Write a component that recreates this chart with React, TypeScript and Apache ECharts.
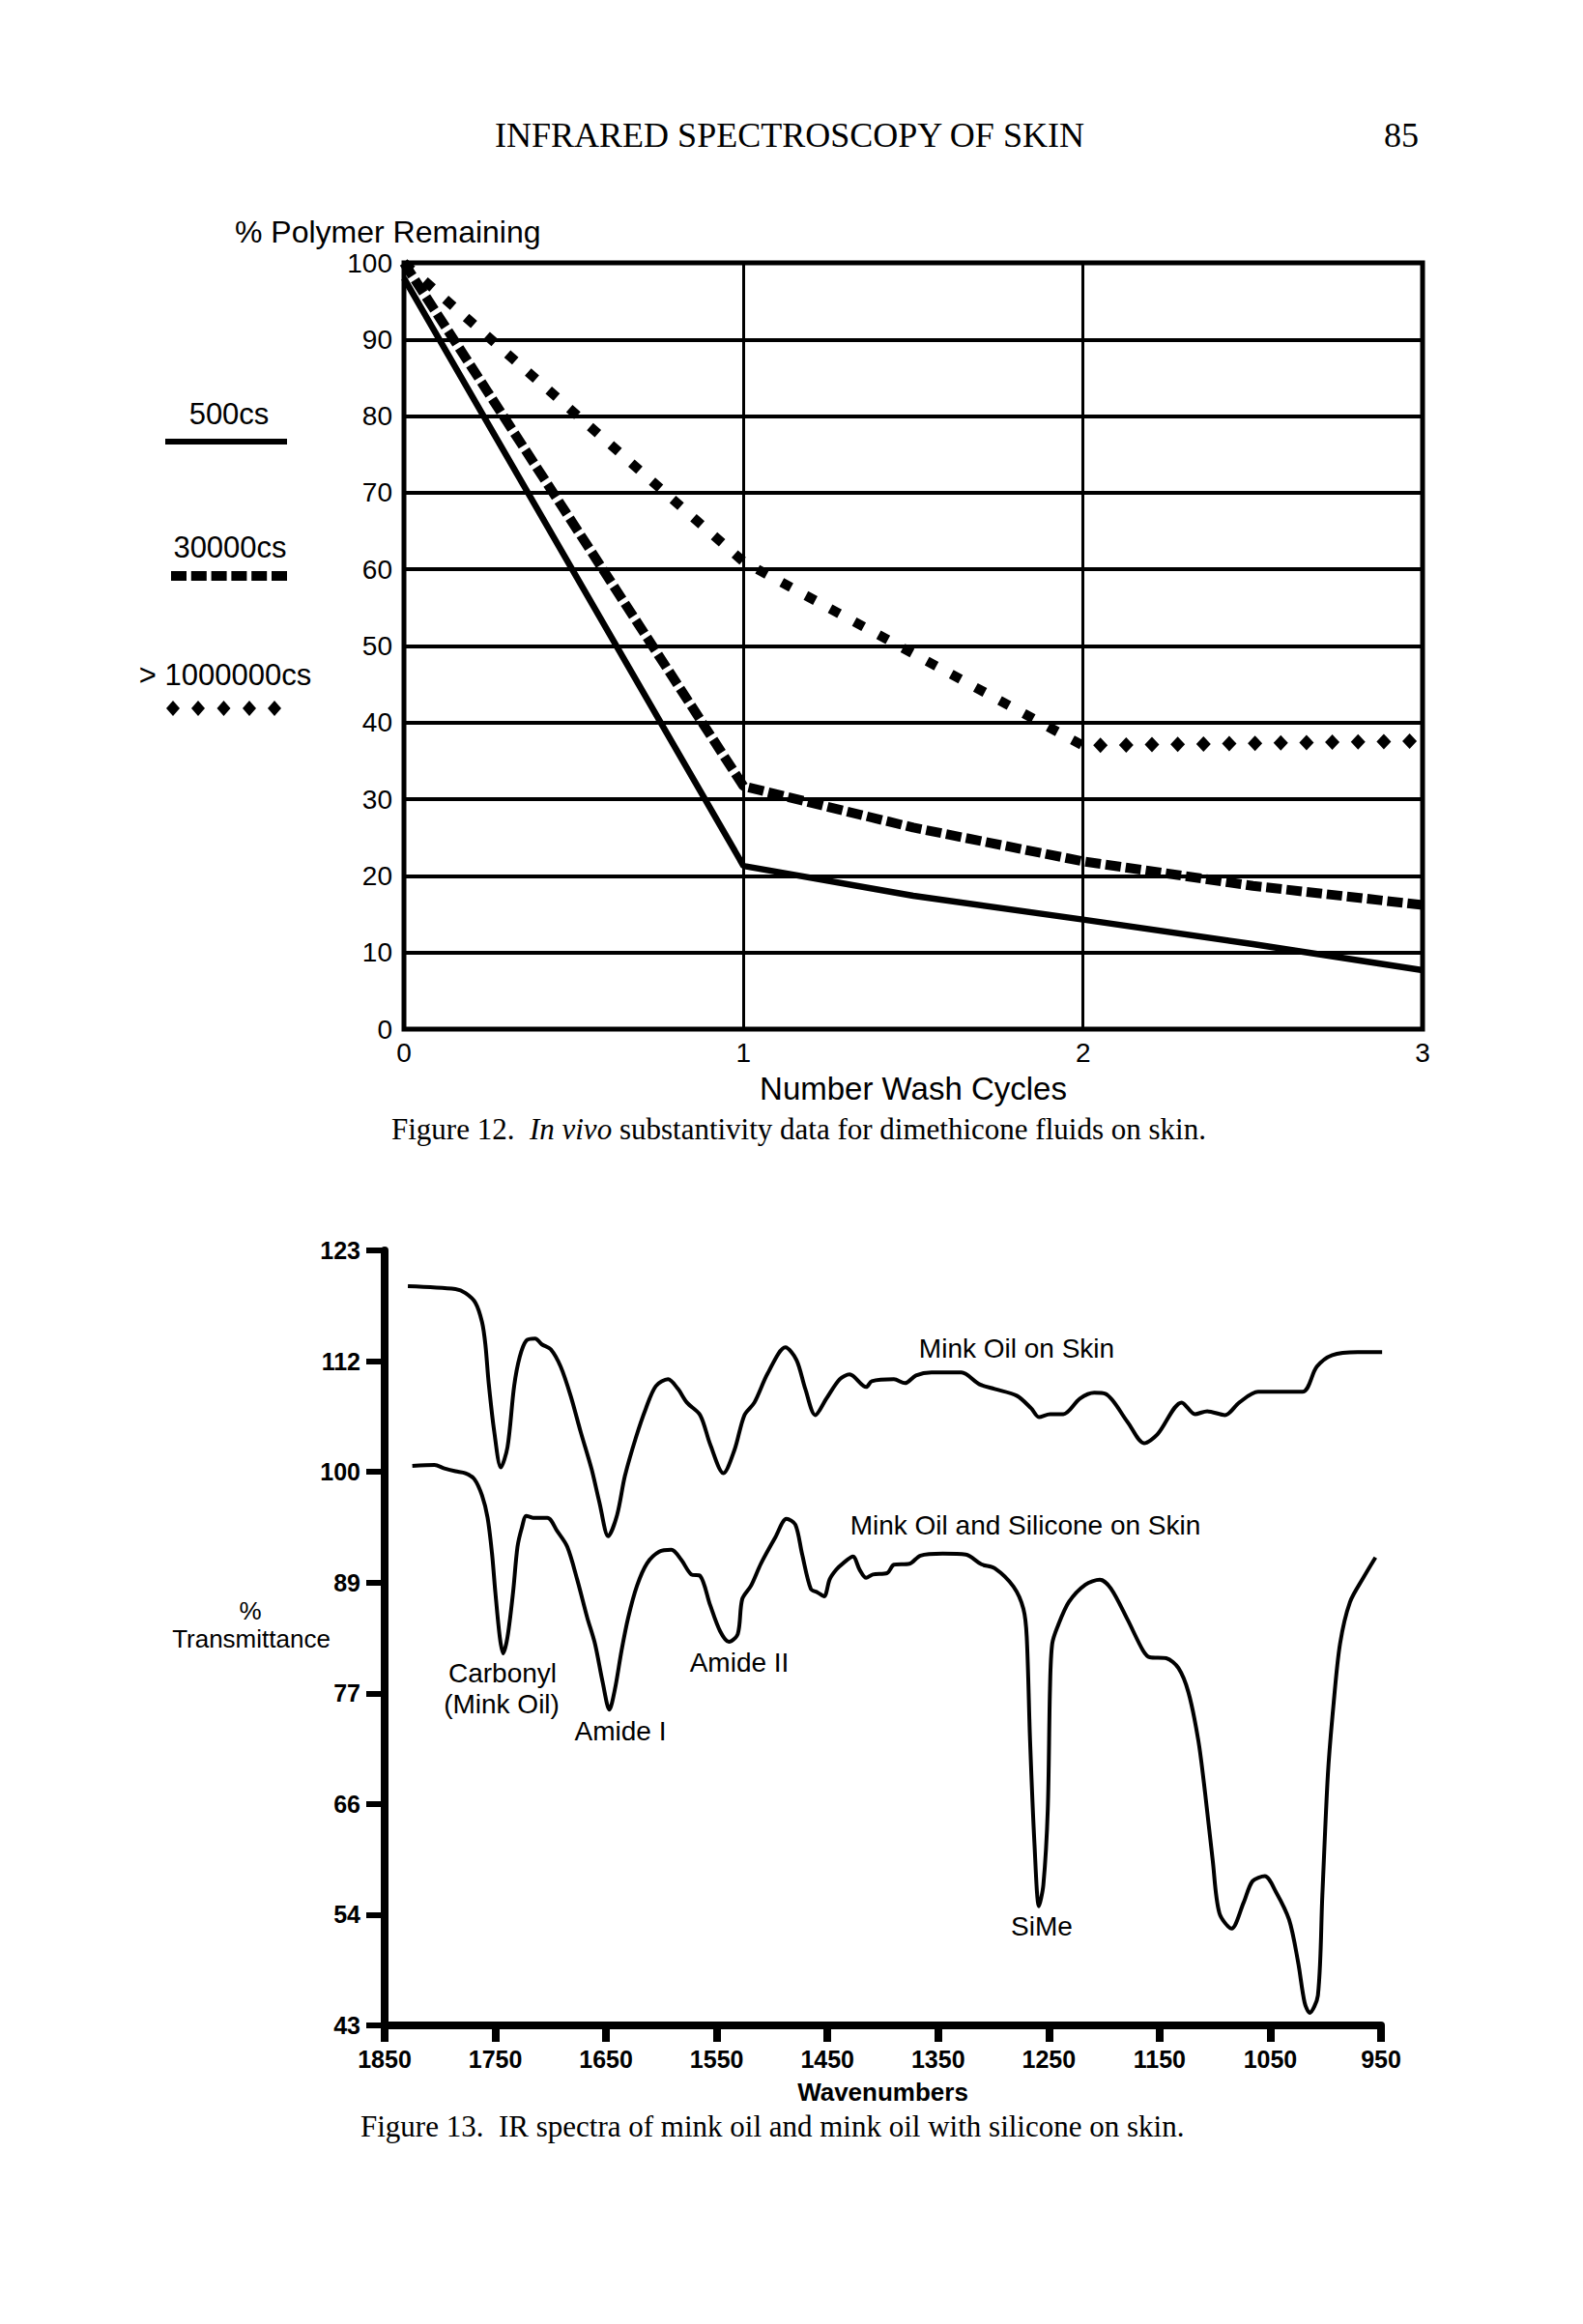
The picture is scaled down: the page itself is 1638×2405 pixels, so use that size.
import React, { useEffect, useRef } from "react";
import * as echarts from "echarts";

// ---------- Figure 12 data ----------
const cycles500 = [0, 1, 1.5, 2, 2.5, 3];
const pct500 = [98, 21.3, 17.4, 14.3, 11.1, 7.7];
const cycles30000 = [0, 1, 1.25, 1.5, 2, 2.5, 3];
const pct30000 = [100, 31.7, 29.0, 26.3, 21.9, 18.7, 16.2];
const cycles1M = [0, 1, 2, 3];
const pct1M = [100, 61, 37, 37.6];
const legendNames = ["500cs", "30000cs", "> 1000000cs"];

// ---------- Figure 13 data ----------
const wnTop = [1829, 1786, 1777, 1768, 1762, 1759, 1756, 1751, 1745, 1739, 1733, 1728, 1722, 1714, 1708, 1700, 1691, 1682, 1673, 1663, 1656, 1648, 1640, 1633, 1623, 1614, 1605, 1594, 1585, 1577, 1565, 1556, 1544, 1534, 1525, 1516, 1504, 1488, 1478, 1470, 1461, 1451, 1439, 1430, 1415, 1410, 1390, 1380, 1370, 1356, 1329, 1313, 1299, 1279, 1266, 1259, 1249, 1237, 1222, 1209, 1199, 1179, 1164, 1152, 1130, 1118, 1107, 1091, 1078, 1061, 1021, 1008, 994, 971, 949];
const tTop = [119.3, 119.0, 118.6, 117.6, 115.6, 113.3, 109.3, 104.3, 100.6, 102.7, 109.0, 112.0, 113.7, 113.9, 113.3, 112.8, 111.0, 108.0, 104.3, 100.4, 97.0, 93.5, 95.7, 99.7, 103.7, 106.7, 109.0, 109.7, 108.7, 107.3, 106.0, 103.0, 100.0, 102.4, 106.0, 107.3, 110.3, 113.0, 111.7, 108.7, 106.0, 107.7, 109.7, 110.2, 108.9, 109.5, 109.7, 109.3, 110.1, 110.4, 110.4, 109.2, 108.7, 108.0, 106.7, 105.8, 106.1, 106.1, 107.7, 108.3, 108.2, 105.3, 103.1, 104.0, 107.3, 106.1, 106.4, 106.0, 107.3, 108.4, 108.4, 111.0, 112.2, 112.5, 112.5];
const wnBottom = [1825, 1805, 1796, 1786, 1777, 1769, 1762, 1757, 1753, 1750, 1746, 1743, 1739, 1734, 1730, 1726, 1722, 1716, 1703, 1694, 1685, 1676, 1667, 1660, 1653, 1647, 1642, 1636, 1630, 1622, 1613, 1602, 1591, 1582, 1573, 1565, 1556, 1547, 1539, 1531, 1527, 1519, 1510, 1497, 1487, 1479, 1473, 1465, 1459, 1453, 1448, 1442, 1436, 1427, 1421, 1415, 1409, 1396, 1390, 1376, 1366, 1346, 1325, 1311, 1299, 1282, 1273, 1270, 1267, 1263, 1259, 1255, 1251, 1249, 1247, 1242, 1232, 1217, 1204, 1194, 1179, 1165, 1159, 1144, 1133, 1124, 1115, 1109, 1102, 1096, 1085, 1074, 1066, 1055, 1045, 1033, 1025, 1019, 1014.5, 1007, 1003, 998, 993, 987, 978, 966, 955];
const tBottom = [100.75, 100.85, 100.5, 100.2, 100.0, 99.4, 97.7, 95.4, 91.7, 87.7, 83.1, 81.4, 83.1, 87.7, 92.4, 94.4, 95.6, 95.4, 95.4, 94.0, 92.4, 89.0, 85.1, 82.4, 78.4, 75.6, 77.7, 81.7, 85.1, 88.4, 90.7, 91.9, 92.1, 91.05, 89.55, 89.4, 86.4, 83.7, 82.6, 83.4, 87.0, 88.4, 90.7, 93.4, 95.3, 94.7, 91.7, 88.05, 87.7, 87.3, 89.05, 90.05, 90.7, 91.4, 90.05, 89.2, 89.55, 89.7, 90.55, 90.65, 91.5, 91.7, 91.6, 90.6, 90.2, 88.3, 86.0, 83.1, 72.4, 61.7, 55.3, 57.5, 65.3, 77.8, 82.4, 84.2, 86.7, 88.5, 89.0, 88.1, 84.9, 81.7, 81.0, 80.9, 79.9, 77.4, 72.4, 67.1, 60.0, 54.6, 53.0, 55.7, 57.9, 58.4, 56.8, 53.9, 49.6, 45.35, 44.3, 46.1, 56.4, 68.9, 76.0, 82.4, 86.7, 89.2, 91.3];
const transmittanceTicks = ["43", "54", "66", "77", "89", "100", "112", "123"];
const spectrumNames = ["Mink Oil on Skin", "Mink Oil and Silicone on Skin"];

const SANS = "'Liberation Sans', Arial, Helvetica, sans-serif";
const SERIF = "'Liberation Serif', 'Times New Roman', serif";

const zip = (xs: number[], ys: number[]) => xs.map((x, i) => [x, ys[i]]);

function diamond(cx: number, cy: number, w: number, h: number) {
  return {
    type: "polygon",
    shape: { points: [[cx, cy - h / 2], [cx + w / 2, cy], [cx, cy + h / 2], [cx - w / 2, cy]] },
    style: { fill: "#000" },
  };
}

function txt(text: string, x: number, y: number, size: number, opts: any = {}) {
  return {
    type: "text",
    x,
    y,
    style: {
      text,
      fill: "#000",
      fontSize: size,
      fontFamily: opts.family || SANS,
      fontWeight: opts.weight || "normal",
      align: opts.align || "center",
      verticalAlign: "middle",
    },
  };
}

export default function App() {
  const ref = useRef<HTMLDivElement>(null);
  useEffect(() => {
    if (!ref.current) return;
    const chart = echarts.init(ref.current, undefined, { renderer: "svg" });
    const seg1M = [[cycles1M[2], pct1M[2], cycles1M[3], pct1M[3]]];

    const option: any = {
      animation: false,
      backgroundColor: "#fff",
      grid: [
        { left: 418, top: 272, width: 1054, height: 793, show: true, borderColor: "#000", borderWidth: 5, backgroundColor: "transparent" },
        { left: 398, top: 1294, width: 1031, height: 802 },
      ],
      xAxis: [
        {
          type: "value", gridIndex: 0, min: 0, max: 3, interval: 1,
          axisLine: { show: false, onZero: false }, axisTick: { show: false },
          axisLabel: { fontSize: 28, color: "#000", fontFamily: SANS, margin: 10, showMinLabel: true, showMaxLabel: true },
          splitLine: { show: true, lineStyle: { color: "#000", width: 3 } },
          name: "Number Wash Cycles", nameLocation: "middle", nameGap: 45,
          nameTextStyle: { fontSize: 33, color: "#000", fontFamily: SANS },
        },
        {
          type: "value", gridIndex: 1, min: 950, max: 1850, interval: 100, inverse: true,
          axisLine: { show: true, onZero: false, lineStyle: { color: "#000", width: 8 } },
          axisTick: { show: true, length: 17, lineStyle: { color: "#000", width: 8 } },
          axisLabel: { fontSize: 25, fontWeight: "bold", color: "#000", fontFamily: SANS, margin: 22, formatter: (v: number) => String(v), showMinLabel: true, showMaxLabel: true },
          splitLine: { show: false },
          name: "Wavenumbers", nameLocation: "middle", nameGap: 56,
          nameTextStyle: { fontSize: 26, fontWeight: "bold", color: "#000", fontFamily: SANS },
        },
      ],
      yAxis: [
        {
          type: "value", gridIndex: 0, min: 0, max: 100, interval: 10, position: "left",
          axisLine: { show: false }, axisTick: { show: false },
          axisLabel: { fontSize: 28, color: "#000", fontFamily: SANS, margin: 12, showMinLabel: true, showMaxLabel: true },
          splitLine: { show: true, lineStyle: { color: "#000", width: 4 } },
        },
        { type: "value", gridIndex: 1, min: 43, max: 123, show: false, position: "right" },
        {
          type: "category", gridIndex: 1, data: transmittanceTicks, boundaryGap: false, position: "left",
          axisLine: { show: true, onZero: false, lineStyle: { color: "#000", width: 8 } },
          axisTick: { show: true, length: 19, lineStyle: { color: "#000", width: 6 } },
          axisLabel: { fontSize: 25, fontWeight: "bold", color: "#000", fontFamily: SANS, margin: 25, interval: 0 },
          splitLine: { show: false },
        },
      ],
      graphic: [
        txt("INFRARED SPECTROSCOPY OF SKIN", 817, 140, 36, { family: SERIF }),
        txt("85", 1468, 140, 36, { family: SERIF, align: "right" }),
        txt("% Polymer Remaining", 243, 240, 32, { align: "left" }),
        txt(legendNames[0], 237, 428, 31),
        { type: "line", shape: { x1: 171, y1: 457, x2: 297, y2: 457 }, style: { stroke: "#000", lineWidth: 6 } },
        txt(legendNames[1], 238, 566, 31),
        { type: "line", shape: { x1: 177, y1: 596, x2: 297, y2: 596 }, style: { stroke: "#000", lineWidth: 10, lineDash: [16, 4.8] } },
        txt(legendNames[2], 233, 698, 31),
        { type: "group", children: [179, 205, 231.5, 258, 284].map((cx) => diamond(cx, 733, 14, 16)) },
        {
          type: "text", x: 405, y: 1168,
          style: {
            text: "{n|Figure 12.  }{i|In vivo}{n| substantivity data for dimethicone fluids on skin.}",
            align: "left", verticalAlign: "middle", fill: "#000",
            rich: {
              n: { fontSize: 31, fontFamily: SERIF, fill: "#000" },
              i: { fontSize: 31, fontFamily: SERIF, fontStyle: "italic", fill: "#000" },
            },
          },
        },
        txt("%", 259, 1667, 26),
        txt("Transmittance", 260, 1696, 26),
        txt(spectrumNames[0], 1052, 1395, 28),
        txt(spectrumNames[1], 1061, 1578, 28),
        txt("Carbonyl", 520, 1731, 28),
        txt("(Mink Oil)", 519, 1763, 28),
        txt("Amide I", 642, 1791, 28),
        txt("Amide II", 765, 1720, 28),
        txt("SiMe", 1078, 1993, 28),
        txt("Figure 13.  IR spectra of mink oil and mink oil with silicone on skin.", 373, 2200, 31, { family: SERIF, align: "left" }),
      ],
      series: [
        {
          name: legendNames[0], type: "line", xAxisIndex: 0, yAxisIndex: 0,
          data: zip(cycles500, pct500), showSymbol: false,
          lineStyle: { color: "#000", width: 6.5 },
        },
        {
          name: legendNames[1], type: "line", xAxisIndex: 0, yAxisIndex: 0,
          data: zip(cycles30000, pct30000), showSymbol: false,
          lineStyle: { color: "#000", width: 10, type: [16, 5], cap: "butt" },
        },
        {
          name: legendNames[2], type: "line", xAxisIndex: 0, yAxisIndex: 0,
          data: zip(cycles1M, pct1M).slice(0, 3), showSymbol: false,
          lineStyle: { color: "#000", width: 10, type: [11, 17.5], cap: "butt" },
        },
        {
          name: legendNames[2], type: "custom", xAxisIndex: 0, yAxisIndex: 0,
          data: seg1M, encode: { x: [0, 2], y: [1, 3] },
          renderItem: (params: any, api: any) => {
            const p0 = api.coord([api.value(0), api.value(1)]);
            const p1 = api.coord([api.value(2), api.value(3)]);
            const dx = p1[0] - p0[0];
            const dy = p1[1] - p0[1];
            const len = Math.hypot(dx, dy);
            const children: any[] = [];
            for (let d = 18; d <= len; d += 26.66) {
              const t = d / len;
              children.push(diamond(p0[0] + dx * t, p0[1] + dy * t, 15, 16));
            }
            return { type: "group", children };
          },
        },
        {
          name: spectrumNames[0], type: "line", xAxisIndex: 1, yAxisIndex: 1,
          data: zip(wnTop, tTop), showSymbol: false, smooth: 0.3,
          lineStyle: { color: "#000", width: 4 },
        },
        {
          name: spectrumNames[1], type: "line", xAxisIndex: 1, yAxisIndex: 1,
          data: zip(wnBottom, tBottom), showSymbol: false, smooth: 0.3,
          lineStyle: { color: "#000", width: 4 },
        },
      ],
    };
    chart.setOption(option);
    return () => chart.dispose();
  }, []);

  return (
    <div
      ref={ref}
      style={{ position: "absolute", left: 0, top: 0, width: 1638, height: 2405, background: "#fff" }}
    />
  );
}
